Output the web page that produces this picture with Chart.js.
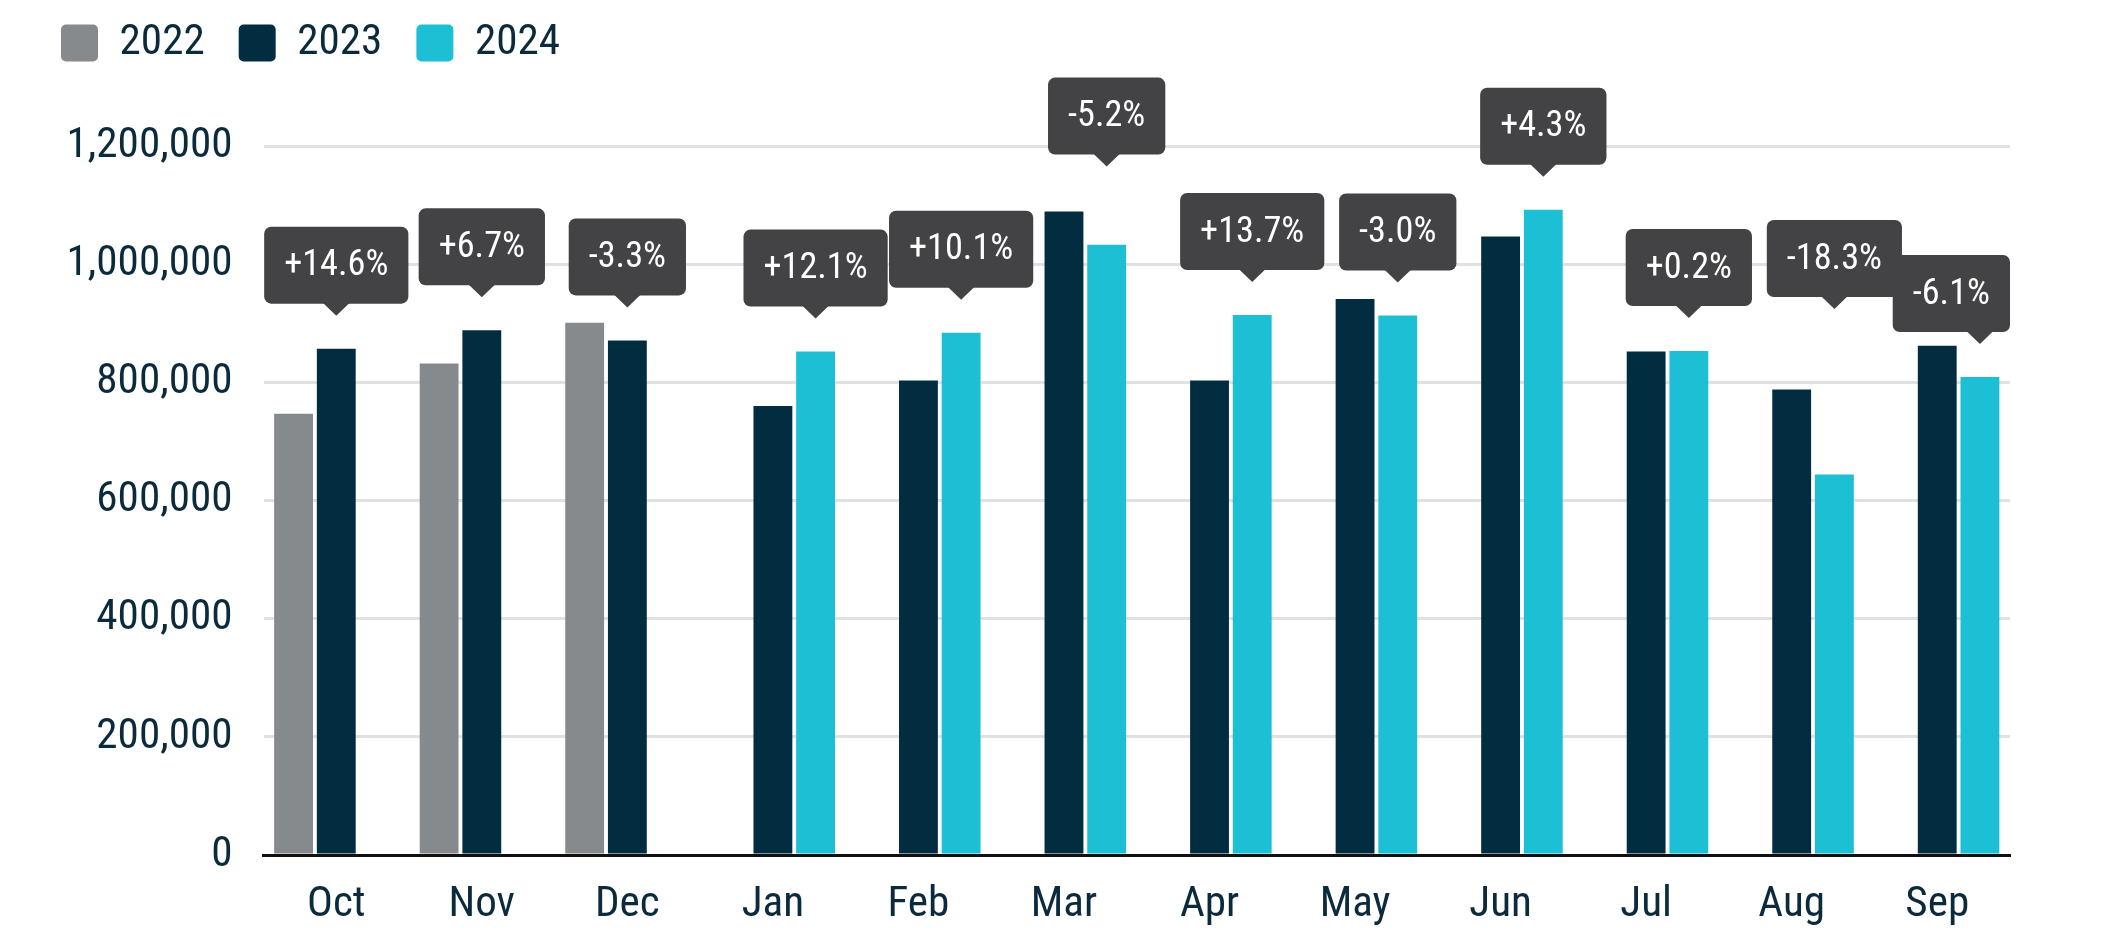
<!DOCTYPE html>
<html>
<head>
<meta charset="utf-8">
<title>Monthly volume, Oct - Sep</title>
<script src="https://cdn.jsdelivr.net/npm/chart.js@4.4.1/dist/chart.umd.min.js"></script>
<style>
body { margin: 0; background: #fff; }
canvas { display: block; }
</style>
</head>
<body>
<canvas id="chart" width="2117" height="935"></canvas>
<script>
// data
months = ["Oct", "Nov", "Dec", "Jan", "Feb", "Mar", "Apr", "May", "Jun", "Jul", "Aug", "Sep"];
years = ["2022", "2023", "2024"];
values2022 = [747000, 832000, 901000, null, null, null, null, null, null, null, null, null];
values2023 = [857000, 888000, 871000, 760000, 803000, 1089000, 803000, 941000, 1047000, 852000, 788000, 862000];
values2024 = [null, null, null, 852000, 884000, 1033000, 914000, 913000, 1092000, 853000, 644000, 809000];
changes = ["+14.6%", "+6.7%", "-3.3%", "+12.1%", "+10.1%", "-5.2%", "+13.7%", "-3.0%", "+4.3%", "+0.2%", "-18.3%", "-6.1%"];
yMax = 1200000;
yStep = 200000;

const TEXT_COLOR = "#0b2a3c";
const COLORS = ["#878a8d", "#022c40", "#1dbfd5"];

// callout look
const BOX_H = 77;
const BOX_PAD_X = 20;
const ARROW_H = 12;
const ARROW_W = 27;
const TIP_GAP = 33;

// the picture uses a condensed face; find the closest one installed
function pickFont() {
    const c = document.createElement("canvas").getContext("2d");
    const probe = "1,200,000";
    function w(f) { c.font = f; return c.measureText(probe).width; }
    const mono = w("44px monospace");
    const has = fam => Math.abs(w("44px " + fam + ", monospace") - mono) > 0.5;
    let font = { family: "Roboto, sans-serif", weight: undefined };
    if (has("'Roboto Condensed'")) {
        font = { family: "'Roboto Condensed', sans-serif", weight: undefined };
    } else {
        let plain = w("44px Roboto");
        let cond = w("normal condensed 44px Roboto");
        if (cond < plain - 1) font = { family: "Roboto, sans-serif", weight: "condensed" };
        else if (has("'Liberation Sans Narrow'")) font = { family: "'Liberation Sans Narrow', sans-serif", weight: undefined };
        else if (has("'DejaVu Sans Condensed'")) font = { family: "'DejaVu Sans Condensed', sans-serif", weight: undefined };
    }
    // size it so the widest tick label is as wide as in the picture
    let wide = w("normal " + (font.weight ? font.weight + " " : "") + "44px " + font.family);
    font.size = Math.max(34, Math.min(46, 44 * 166 / wide));
    return font;
}
const FONT = pickFont();
const fontCss = size => "normal " + (FONT.weight ? FONT.weight + " " : "") + size + "px " + FONT.family;
const chartFont = size => ({ family: FONT.family, weight: FONT.weight, size: size });

// make room between the legend and the plot
const legendSpacer = {
    id: "legendSpacer",
    beforeInit(chart) {
        if (!chart.legend) return;
        const fit = chart.legend.fit;
        chart.legend.fit = function () {
            fit.call(this);
            this.height += 114.5 - Math.max(FONT.size, 37);
        };
    }
};

function roundBox(ctx, x, y, w, h, r) {
    ctx.beginPath();
    ctx.moveTo(x + r, y);
    ctx.arcTo(x + w, y, x + w, y + h, r);
    ctx.arcTo(x + w, y + h, x, y + h, r);
    ctx.arcTo(x, y + h, x, y, r);
    ctx.arcTo(x, y, x + w, y, r);
    ctx.closePath();
}

// dark change-% bubbles above the newer bar of each month
const callouts = {
    id: "callouts",
    afterDatasetsDraw(chart) {
        const ctx = chart.ctx;
        const area = chart.chartArea;
        ctx.save();
        ctx.font = fontCss(FONT.size * 37 / 44);
        let boxes = [];
        for (let i = 0; i < months.length; i++) {
            let newer = values2022[i] != null ? 1 : 2;
            let barNew = chart.getDatasetMeta(newer).data[i];
            let barOld = chart.getDatasetMeta(newer - 1).data[i];
            let w = ctx.measureText(changes[i]).width + 2 * BOX_PAD_X;
            let left = Math.min(Math.max(barNew.x - w / 2, area.left), area.right - w);
            let tip = barNew.y - TIP_GAP;
            let oldL = barOld.x - barOld.width / 2;
            let oldR = barOld.x + barOld.width / 2;
            // older bar pokes into the bubble: lift it clear
            if (oldR > left && oldL < left + w && barOld.y - (tip - ARROW_H) < 13)
                tip = barOld.y - 45;
            boxes.push({ left: left, w: w, tip: tip, x: barNew.x, text: changes[i] });
        }
        for (let i = 0; i < boxes.length - 1; i++) {
            let a = boxes[i], b = boxes[i + 1];
            if (a.left + a.w > b.left && Math.abs(a.tip - b.tip) < BOX_H)
                a.tip = b.tip - 35;
        }
        ctx.textAlign = "center";
        ctx.textBaseline = "middle";
        boxes.forEach(b => {
            let top = b.tip - ARROW_H - BOX_H;
            ctx.fillStyle = "#434244";
            roundBox(ctx, b.left, top, b.w, BOX_H, 7);
            ctx.fill();
            ctx.beginPath();
            ctx.moveTo(b.x - ARROW_W / 2, top + BOX_H - 1);
            ctx.lineTo(b.x, b.tip);
            ctx.lineTo(b.x + ARROW_W / 2, top + BOX_H - 1);
            ctx.closePath();
            ctx.fill();
            ctx.fillStyle = "#ffffff";
            ctx.fillText(b.text, b.left + b.w / 2, top + BOX_H / 2 + 1);
        });
        ctx.restore();
    }
};

function main() {
    let series = [values2022, values2023, values2024];
    let datasets = years.map((y, n) => ({
        label: y,
        data: series[n],
        backgroundColor: COLORS[n],
        borderWidth: 0,
        borderRadius: 0,
        categoryPercentage: 0.88,
        barPercentage: 0.91
    }));

    new Chart(document.getElementById("chart"), {
        type: "bar",
        data: { labels: months, datasets: datasets },
        options: {
            responsive: false,
            animation: false,
            devicePixelRatio: 1,
            layout: { padding: { left: 27, top: -12.5, right: 107, bottom: 8 } },
            plugins: {
                tooltip: { enabled: false },
                legend: {
                    position: "top",
                    align: "start",
                    labels: {
                        boxWidth: 37,
                        boxHeight: 37,
                        padding: 34,
                        useBorderRadius: true,
                        borderRadius: 5,
                        color: TEXT_COLOR,
                        font: chartFont(FONT.size)
                    }
                }
            },
            scales: {
                x: {
                    afterFit: s => { s.height = 72; },
                    grid: { display: false, drawTicks: false },
                    border: { display: true, color: "#111111", width: 3 },
                    ticks: {
                        color: TEXT_COLOR,
                        padding: 24,
                        font: chartFont(FONT.size)
                    }
                },
                y: {
                    min: 0,
                    max: yMax,
                    afterFit: s => { s.width = 236.5; },
                    grid: { color: "#e1e1e1", lineWidth: 3, drawTicks: false },
                    border: { display: false },
                    ticks: {
                        stepSize: yStep,
                        color: TEXT_COLOR,
                        padding: 31,
                        font: chartFont(FONT.size),
                        callback: v => v.toLocaleString("en-US")
                    }
                }
            }
        },
        plugins: [legendSpacer, callouts]
    });
}
document.addEventListener("DOMContentLoaded", main);
</script>
</body>
</html>
